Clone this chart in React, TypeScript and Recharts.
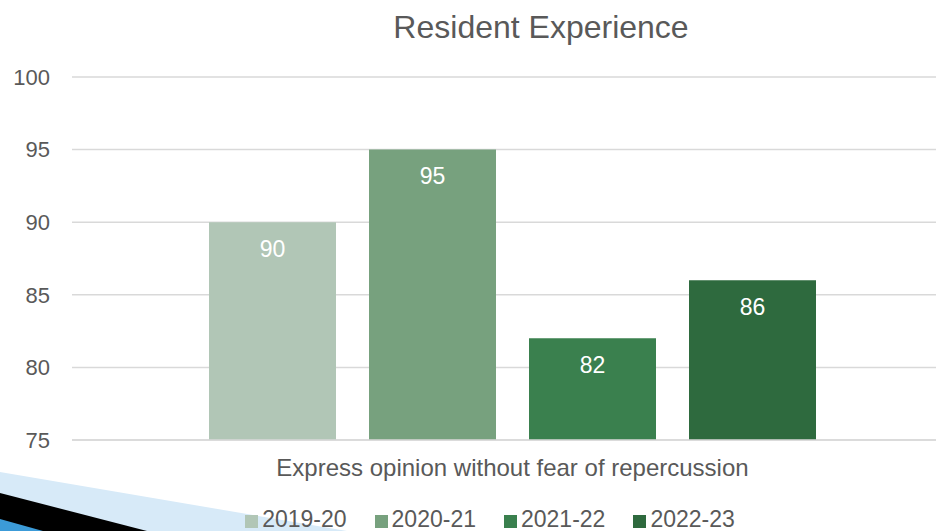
import { Bar, BarChart, CartesianGrid, LabelList, Legend, XAxis, YAxis } from "recharts"

const categories = ["Express opinion without fear of repercussion"]
const seriesNames = ["2019-20", "2020-21", "2021-22", "2022-23"]
const seriesColors = ["#B1C6B6", "#77A17E", "#3A804E", "#2E6A3E"]
const values2019 = [90]
const values2020 = [95]
const values2021 = [82]
const values2022 = [86]
const yTicks = [75, 80, 85, 90, 95, 100]

const seriesValues = [values2019, values2020, values2021, values2022]

const data = categories.map((name, i) => {
  const row: Record<string, string | number> = { name }
  seriesNames.forEach((s, j) => {
    row[s] = seriesValues[j][i]
  })
  return row
})

const font = "'Liberation Sans', Arial, sans-serif"
const textColor = "#595959"

function LegendContent(props: any) {
  const items = props.payload || []
  return (
    <div
      style={{
        display: "flex",
        justifyContent: "center",
        alignItems: "center",
        height: 30,
        paddingLeft: 27,
        transform: "translateY(3px)",
        fontFamily: font,
        fontSize: 23,
        color: textColor,
      }}
    >
      {items.map((it: any, i: number) => (
        <div key={i} style={{ display: "flex", alignItems: "center", marginLeft: i ? 28 : 0 }}>
          <span style={{ display: "inline-block", width: 13, height: 13, background: it.color, marginRight: 4, marginTop: 4 }} />
          <span>{it.value}</span>
        </div>
      ))}
    </div>
  )
}

export default function App() {
  return (
    <div style={{ position: "fixed", left: 0, top: 0, width: 936, height: 531, overflow: "hidden", background: "#fff" }}>
      <svg width={936} height={531} style={{ position: "absolute", left: 0, top: 0 }}>
        <polygon points="0,472 347,531 0,531" fill="#D7EAF8" />
        <polygon points="0,493 147,531 0,531" fill="#000000" />
        <polygon points="0,519 43,531 0,531" fill="#3C9BD8" />
      </svg>
      <div
        style={{
          position: "absolute",
          left: 541,
          top: 9,
          transform: "translateX(-50%)",
          whiteSpace: "nowrap",
          fontFamily: font,
          fontSize: 32,
          color: textColor,
        }}
      >
        Resident Experience
      </div>
      <div style={{ position: "absolute", left: 0, top: 0 }}>
        <BarChart
          width={960}
          height={531}
          data={data}
          margin={{ top: 77, right: 7, bottom: 0, left: 0 }}
          barCategoryGap={137}
          barGap={33}
        >
          <CartesianGrid vertical={false} stroke="#D9D9D9" strokeWidth={1.5} />
          <XAxis
            dataKey="name"
            height={61}
            tickLine={false}
            tickSize={0}
            tickMargin={19}
            axisLine={{ stroke: "#D9D9D9", strokeWidth: 1.5 }}
            tick={{ fill: textColor, fontSize: 24, fontFamily: font }}
          />
          <YAxis
            width={72}
            domain={[75, 100]}
            ticks={yTicks}
            interval={0}
            tickLine={false}
            axisLine={false}
            tickSize={0}
            tickMargin={22}
            tick={{ fill: textColor, fontSize: 22, fontFamily: font }}
          />
          <Legend verticalAlign="bottom" height={30} content={<LegendContent />} />
          {seriesNames.map((s, j) => (
            <Bar key={s} dataKey={s} name={s} fill={seriesColors[j]} isAnimationActive={false}>
              <LabelList
                dataKey={s}
                position="insideTop"
                offset={18}
                fill="#FFFFFF"
                fontSize={23}
                fontFamily={font}
              />
            </Bar>
          ))}
        </BarChart>
      </div>
    </div>
  )
}
